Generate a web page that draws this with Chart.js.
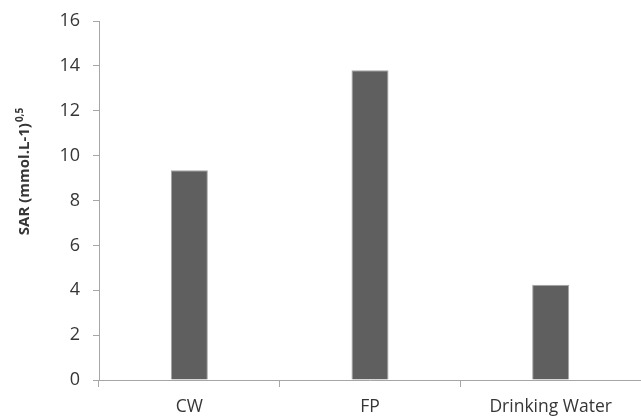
<!DOCTYPE html>
<html>
<head>
<meta charset="utf-8">
<script src="https://cdn.jsdelivr.net/npm/chart.js@4/dist/chart.umd.min.js"></script>
<style>
  html, body { margin: 0; padding: 0; background: #fff; }
  #wrap { width: 641px; height: 417px; }
</style>
</head>
<body>
<div id="wrap"><canvas id="sarChart"></canvas></div>
<script>
// données
const categories = ['CW', 'FP', 'Drinking Water'];
const sarValues = [9.35, 13.8, 4.25];
const yTicks = [0, 2, 4, 6, 8, 10, 12, 14, 16];

const axisColor = '#a6a6a6';
const textColor = '#363636';
const fontFamily = "'Open Sans', 'Liberation Sans', sans-serif";

// titre de l'axe Y avec exposant (0,5)
const yTitlePlugin = {
  id: 'yTitle',
  afterDraw(chart) {
    const ctx = chart.ctx;
    const main = 'SAR (mmol.L-1)';
    const sup = '0,5';
    ctx.save();
    ctx.fillStyle = textColor;
    ctx.font = 'bold 15px ' + fontFamily;
    const wMain = ctx.measureText(main).width;
    ctx.font = 'bold 10px ' + fontFamily;
    const wSup = ctx.measureText(sup).width;
    const total = wMain + wSup;
    ctx.translate(29, 172);
    ctx.rotate(-Math.PI / 2);
    ctx.textBaseline = 'alphabetic';
    ctx.textAlign = 'left';
    ctx.font = 'bold 15px ' + fontFamily;
    ctx.fillText(main, -total / 2, 0);
    ctx.font = 'bold 10px ' + fontFamily;
    ctx.fillText(sup, -total / 2 + wMain + 1, -6);
    ctx.restore();
  }
};

const ctx = document.getElementById('sarChart').getContext('2d');
const sarChart = new Chart(ctx, {
  type: 'bar',
  data: {
    labels: categories,
    datasets: [{
      data: sarValues,
      backgroundColor: '#5f5f5f',
      borderColor: '#a6a6a6',
      borderWidth: 1,
      barPercentage: 1,
      categoryPercentage: 0.205
    }]
  },
  options: {
    responsive: true,
    maintainAspectRatio: false,
    animation: false,
    layout: { padding: { top: 21, right: 0, left: 0, bottom: 0 } },
    plugins: {
      legend: { display: false },
      tooltip: { enabled: false }
    },
    scales: {
      x: {
        offset: true,
        afterFit: s => { s.height = 37; s.paddingLeft = 0; s.paddingRight = 0; },
        grid: {
          offset: true,
          drawOnChartArea: false,
          color: axisColor,
          tickLength: 7,
          tickWidth: 1
        },
        border: { color: axisColor, width: 1 },
        ticks: {
          color: textColor,
          padding: 10,
          maxRotation: 0,
          font: { family: fontFamily, size: 17.5 }
        }
      },
      y: {
        min: 0,
        max: 16,
        afterFit: s => { s.width = 99; s.paddingTop = 0; s.paddingBottom = 0; },
        afterBuildTicks: s => { s.ticks = yTicks.map(v => ({ value: v })); },
        grid: {
          drawOnChartArea: false,
          color: axisColor,
          tickLength: 6
        },
        border: { color: axisColor, width: 1 },
        ticks: {
          color: textColor,
          padding: 13,
          font: { family: fontFamily, size: 18 }
        }
      }
    }
  },
  plugins: [yTitlePlugin]
});
</script>
</body>
</html>
